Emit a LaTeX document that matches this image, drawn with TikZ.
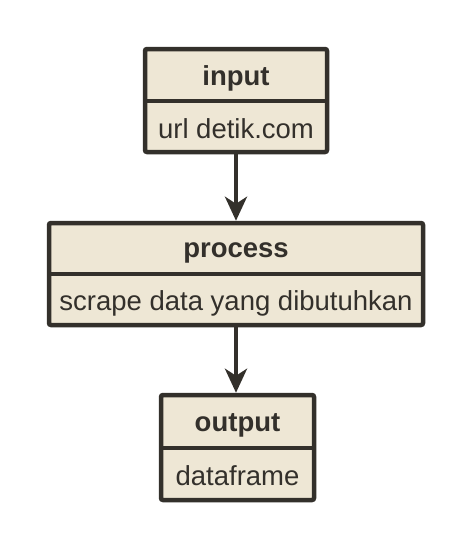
\documentclass[tikz,border=0pt]{standalone}
\usepackage{fontspec}
\setmainfont{Liberation Sans}
\usetikzlibrary{arrows.meta}
\definecolor{boxfill}{HTML}{EEE7D5}
\definecolor{ink}{HTML}{33302B}
\begin{document}
\begin{tikzpicture}[x=1pt,y=-1pt,
  umlbox/.style={draw=ink, fill=boxfill, line width=4.5pt, rounded corners=2pt, inner sep=0pt, rectangle},
  divider/.style={draw=ink, line width=4.5pt},
  headtxt/.style={text=ink, font=\fontsize{27.5}{32}\selectfont\bfseries, inner sep=0pt, anchor=base},
  bodytxt/.style={text=ink, font=\fontsize{27.5}{32}\selectfont, inner sep=0pt, anchor=base},
  flow/.style={draw=ink, line width=4.5pt, -{Stealth[length=24pt,width=22pt,inset=7pt]}}]
\useasboundingbox (0,0) rectangle (470,547);
% boxes
\node[umlbox, minimum width=182pt, minimum height=103pt] (in) at (236,100.5) {};
\node[umlbox, minimum width=374pt, minimum height=102pt] (pr) at (236,274) {};
\node[umlbox, minimum width=153pt, minimum height=105pt] (out) at (237.5,447.5) {};
% dividers
\coordinate (inL) at (145,101); \coordinate (inR) at (327,101);
\coordinate (prL) at (49,274); \coordinate (prR) at (423,274);
\coordinate (outL) at (161,448); \coordinate (outR) at (314,448);
\draw[divider] (inL) -- (inR);
\draw[divider] (prL) -- (prR);
\draw[divider] (outL) -- (outR);
% texts
\node[headtxt] (inh) at (236,85) {input};
\node[bodytxt] (inb) at (236,138) {url detik.com};
\node[headtxt] (prh) at (236,257) {process};
\node[bodytxt] (prb) at (236,310) {scrape data yang dibutuhkan};
\node[headtxt] (outh) at (237.5,431) {output};
\node[bodytxt] (outb) at (237.5,485) {dataframe};
% connectors
\draw[flow] (in.south) -- (pr.north);
\draw[flow] (pr.south) -- (pr.south |- out.north);
\end{tikzpicture}
\end{document}
